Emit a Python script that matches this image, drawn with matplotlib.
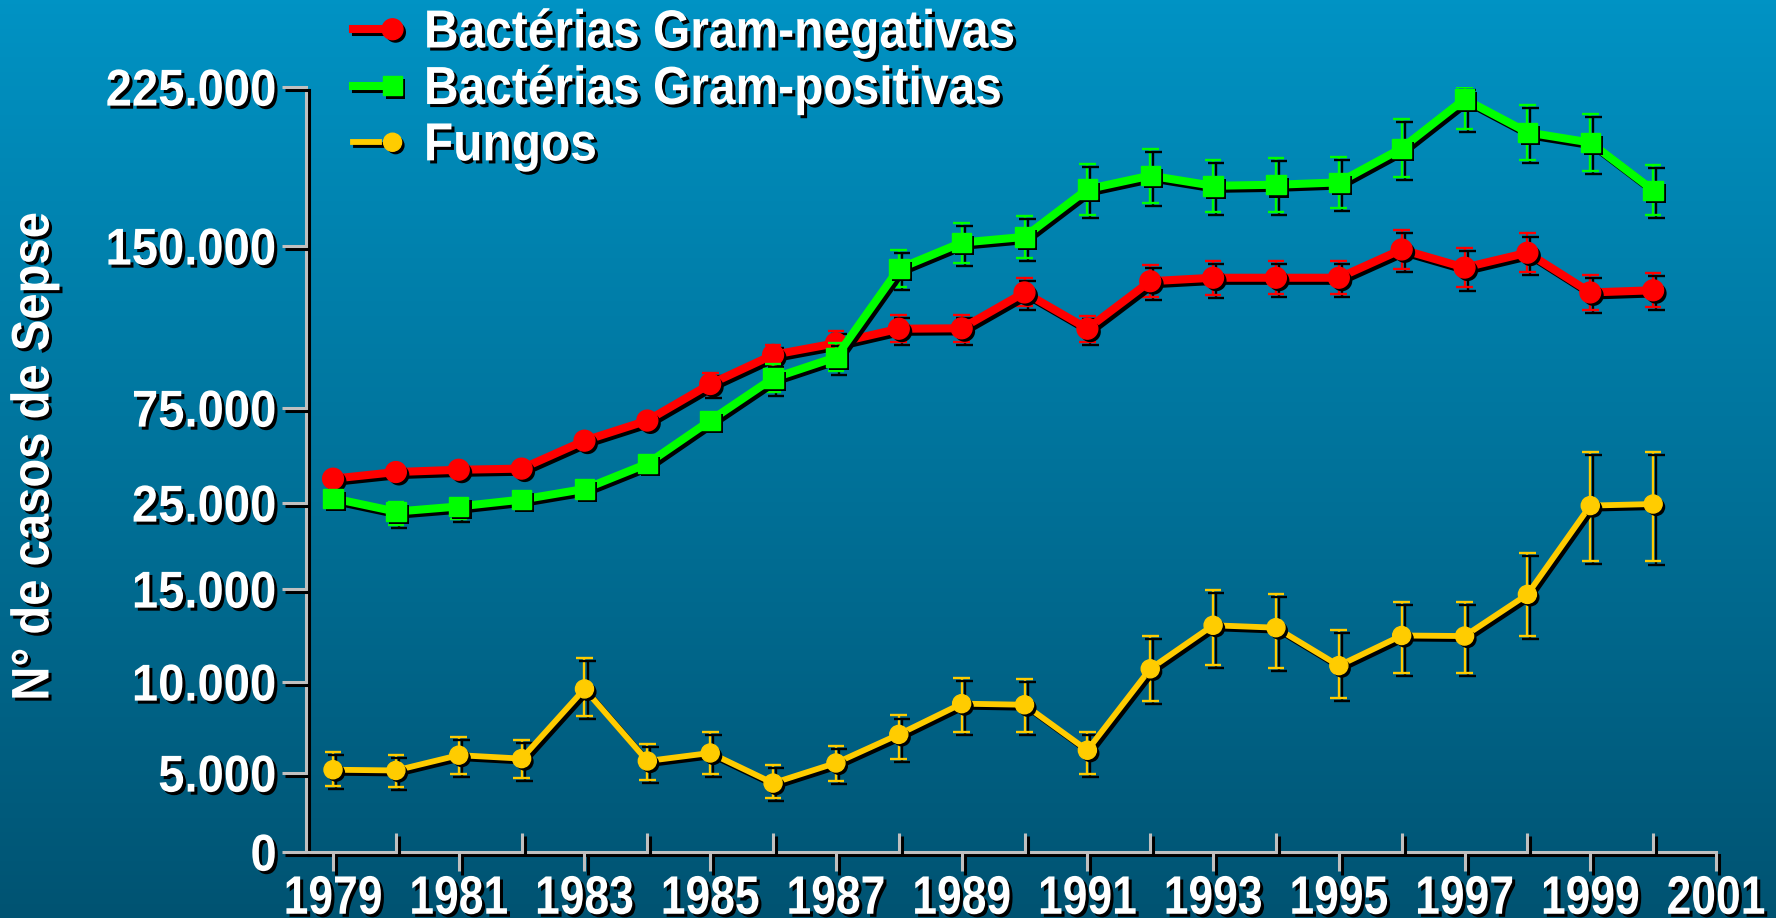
import numpy as np
import matplotlib
matplotlib.use("Agg")
import matplotlib.pyplot as plt
import matplotlib.patheffects as pe
from matplotlib.colors import LinearSegmentedColormap
from matplotlib.legend_handler import HandlerTuple
from matplotlib.transforms import Affine2D

# dados
anos = list(range(1979, 2001))

gram_neg = [37800, 41300, 42500, 43100, 57800, 68400, 86100, 99600, 105000, 111700,
            111900, 128500, 111700, 133700, 135300, 135300, 135300, 148400, 140000,
            146900, 128500, 129500]
gram_neg_err = [1500, 1500, 1500, 1500, 2000, 2500, 5100, 4600, 5700, 6200, 6200,
                6500, 6000, 7500, 7800, 7700, 7700, 9000, 9200, 9000, 8100, 7900]

gram_pos = [27500, 24000, 24600, 26800, 32400, 45700, 68400, 88800, 98500, 139500,
            151600, 154300, 176800, 183200, 178400, 178900, 180000, 196100, 219300,
            203600, 198800, 176300]
gram_pos_err = [1500, 1500, 1500, 1500, 2000, 3000, 4000, 6600, 6600, 8500, 9400,
                10000, 12100, 12700, 12400, 12800, 12000, 13700, 14100, 13100, 13400, 11800]

fungos = [5180, 5140, 5980, 5790, 9620, 5660, 6100, 4360, 5550, 7120, 8810, 8750,
          6250, 10710, 13050, 12920, 10880, 12500, 12470, 14710, 24700, 24880]
fungos_min = [4170, 4110, 4910, 4700, 8140, 4530, 4950, 3440, 4490, 5790, 7230, 7270,
              4950, 8940, 10940, 10730, 9120, 10490, 10460, 12470, 18310, 18200]
fungos_max = [6140, 6010, 6990, 6810, 11300, 6620, 7230, 5420, 6510, 8160, 10230, 10170,
              7270, 12500, 14930, 14710, 12790, 14320, 14320, 19230, 51930, 51630]

yticks = [0, 5000, 10000, 15000, 25000, 75000, 150000, 225000]
ytick_labels = ["0", "5.000", "10.000", "15.000", "25.000", "75.000", "150.000", "225.000"]
# posicao (px) de cada marca no eixo quebrado do original
ytick_px = [0, 79, 170, 263, 349, 444, 606, 765]

xticks_maj = list(range(1979, 2002, 2))
xticks_min = list(range(1980, 2001, 2))


def fwd(v):
    return np.interp(v, yticks, ytick_px)


def inv(p):
    return np.interp(p, ytick_px, yticks)


class TextoEstreito(pe.AbstractPathEffect):
    """estica o texto (imitando Arial Narrow) e desenha sombra preta"""

    def __init__(self, sx=1.0, sy=1.0, off=(2.2, -2.2)):
        super().__init__()
        self.sx, self.sy, self.off = sx, sy, off

    def draw_path(self, renderer, gc, tpath, affine, rgbFace=None):
        ext = affine.transform_path(tpath).get_extents()
        cx, cy = ext.x0 + ext.width / 2, ext.y0 + ext.height / 2
        st = affine + Affine2D().translate(-cx, -cy).scale(self.sx, self.sy).translate(cx, cy)
        dx = renderer.points_to_pixels(self.off[0])
        dy = renderer.points_to_pixels(self.off[1])
        gc0 = renderer.new_gc()
        gc0.copy_properties(gc)
        gc0.set_foreground("none")
        gc0.set_linewidth(0)
        renderer.draw_path(gc0, tpath, st + Affine2D().translate(dx, dy), (0, 0, 0, 1))
        gc0.restore()
        renderer.draw_path(gc, tpath, st, rgbFace)


cinza = "#c0c0c0"
sombra_linha = [pe.SimpleLineShadow(offset=(2.2, -2.2), shadow_color="k", alpha=1, rho=1), pe.Normal()]
sombra_patch = [pe.SimplePatchShadow(offset=(2.2, -2.2), shadow_rgbFace="k", alpha=1), pe.Normal()]

plt.rcParams["font.family"] = ["Liberation Sans", "DejaVu Sans"]
plt.rcParams["font.weight"] = "bold"

fig = plt.figure(figsize=(17.76, 9.18), dpi=100)

# fundo em degrade
bg = fig.add_axes([0, 0, 1, 1], zorder=-10)
grad = np.linspace(0, 1, 256).reshape(-1, 1)
cmap_bg = LinearSegmentedColormap.from_list("bg", ["#0093c4", "#005372"])
bg.imshow(grad, aspect="auto", cmap=cmap_bg, extent=[0, 1, 0, 1])
bg.axis("off")

ax = fig.add_axes([306 / 1776, 66 / 918, (1716 - 306) / 1776, (852 - 87) / 918])
ax.patch.set_alpha(0)
ax.set_yscale("function", functions=(fwd, inv))
ax.set_ylim(0, 225000)
ax.set_xlim(1978.57, 2001)

series = [
    (fungos, np.array([np.subtract(fungos, fungos_min), np.subtract(fungos_max, fungos)]),
     "#ffcc00", "o", 13, 4.2, "Fungos", 2),
    (gram_neg, gram_neg_err, "#ff0000", "o", 15, 5.8, "Bactérias Gram-negativas", 3),
    (gram_pos, gram_pos_err, "#00ff00", "s", 14, 5.8, "Bactérias Gram-positivas", 4),
]

handles = {}
for vals, err, cor, mk, ms, lw, nome, z in series:
    eb = ax.errorbar(anos, vals, yerr=err, fmt="none", ecolor=cor, elinewidth=1.7,
                     capsize=6, capthick=1.7, zorder=z)
    for c in eb.lines[1]:
        c.set_path_effects(sombra_linha)
    for c in eb.lines[2]:
        c.set_path_effects(sombra_linha)
    ln, = ax.plot(anos, vals, color=cor, lw=lw, zorder=z + 0.1, solid_joinstyle="round")
    ln.set_path_effects(sombra_linha)
    mks, = ax.plot(anos, vals, ls="none", marker=mk, ms=ms, color=cor, mec=cor,
                   zorder=z + 0.2)
    mks.set_path_effects(sombra_patch)
    handles[nome] = (ln, mks)

ordem = ["Bactérias Gram-negativas", "Bactérias Gram-positivas", "Fungos"]
leg = ax.legend([handles[n] for n in ordem], ordem,
                handler_map={tuple: HandlerTuple(ndivide=None)},
                loc="upper left", bbox_to_anchor=(353 / 1776, 0.988),
                bbox_transform=fig.transFigure, frameon=False, borderpad=0,
                borderaxespad=0, handlelength=1.1, handletextpad=0.38,
                labelspacing=0.24, prop={"size": 34.5, "weight": "bold"})
for t in leg.get_texts():
    t.set_color("white")
    t.set_path_effects([TextoEstreito(1.0, 1.12)])

# eixos
for s in ["top", "right"]:
    ax.spines[s].set_visible(False)
for s in ["left", "bottom"]:
    ax.spines[s].set_color(cinza)
    ax.spines[s].set_linewidth(2.2)
    ax.spines[s].set_path_effects(sombra_linha)
    ax.spines[s].set_zorder(1)

ax.yaxis.set_major_locator(matplotlib.ticker.FixedLocator(yticks))
ax.yaxis.set_major_formatter(matplotlib.ticker.FixedFormatter(ytick_labels))
ax.yaxis.set_minor_locator(matplotlib.ticker.NullLocator())
ax.set_xticks(xticks_maj)
ax.set_xticks(xticks_min, minor=True)
ax.set_xticklabels([str(a) for a in xticks_maj])

ax.tick_params(axis="y", direction="out", length=17, width=2.2, color=cinza,
               labelsize=34, labelcolor="white", pad=4)
ax.tick_params(axis="x", which="major", direction="out", length=14, width=2.2,
               color=cinza, labelsize=32, labelcolor="white", pad=5)
ax.tick_params(axis="x", which="minor", direction="in", length=14, width=2.2, color=cinza)

for t in ax.yaxis.get_major_ticks(len(yticks)) + ax.xaxis.get_major_ticks(len(xticks_maj)) \
        + ax.xaxis.get_minor_ticks(len(xticks_min)):
    t.tick1line.set_path_effects(sombra_linha)
for tl in ax.get_xticklabels():
    tl.set_fontweight("bold")
    tl.set_path_effects([TextoEstreito(1.0, 1.22)])
for tl in ax.get_yticklabels():
    tl.set_fontweight("bold")
    tl.set_path_effects([TextoEstreito(1.0, 1.1)])

fig.text(35 / 1776, 1 - 456 / 918, "N° de casos de Sepse", rotation=90, ha="center",
         va="center", fontsize=34, fontweight="bold", color="white",
         path_effects=[TextoEstreito(1.12, 1.0)])

fig.savefig("out.png", dpi=100)
